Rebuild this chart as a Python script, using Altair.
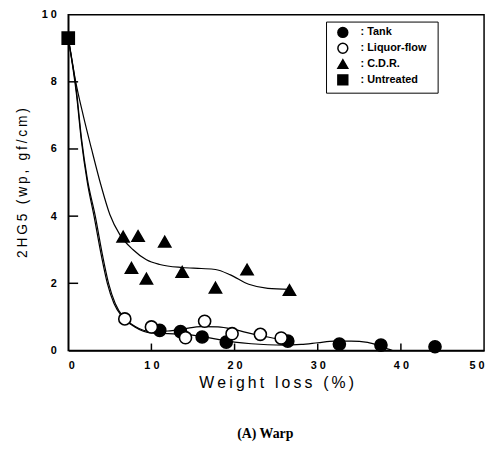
import altair as alt
import pandas as pd

# ---------------- data ----------------
series_names = ["Tank", "Liquor-flow", "C.D.R.", "Untreated"]

tank_x = [11.0, 13.5, 16.1, 19.0, 26.4, 32.6, 37.6, 44.1]
tank_y = [0.60, 0.56, 0.40, 0.25, 0.28, 0.19, 0.16, 0.11]

liquor_x = [6.8, 10.0, 14.1, 16.4, 19.7, 23.1, 25.6]
liquor_y = [0.94, 0.70, 0.38, 0.87, 0.50, 0.48, 0.37]

cdr_x = [6.6, 7.6, 8.4, 9.4, 11.6, 13.7, 17.7, 21.5, 26.6]
cdr_y = [3.39, 2.46, 3.41, 2.14, 3.24, 2.34, 1.87, 2.41, 1.80]

untreated_x = [0.0]
untreated_y = [9.3]

# fitted curves (traced)
tank_curve_x = [0, 1.0, 1.6, 2.3, 3.1, 4.0, 4.7, 5.5, 6.5, 8, 10, 12, 14, 16, 18, 20, 22, 24, 26, 28, 30, 32, 34, 36, 37.5, 38.5, 39]
tank_curve_y = [9.3, 7.6, 6.2, 5.0, 4.0, 2.8, 2.0, 1.4, 1.0, 0.7, 0.52, 0.5, 0.48, 0.42, 0.33, 0.25, 0.2, 0.17, 0.16, 0.18, 0.23, 0.28, 0.28, 0.24, 0.13, 0.04, 0.0]

liquor_curve_x = [0, 1.0, 1.6, 2.3, 3.25, 4.15, 4.85, 5.65, 6.6, 8, 10, 12, 14, 16, 18, 20, 22, 24, 26, 27]
liquor_curve_y = [9.3, 7.7, 6.3, 5.1, 4.0, 2.8, 2.0, 1.4, 1.0, 0.72, 0.56, 0.58, 0.65, 0.71, 0.70, 0.62, 0.50, 0.40, 0.30, 0.25]

cdr_curve_x = [0, 0.9, 1.8, 2.8, 3.9, 5.0, 6.2, 7.8, 9.4, 11, 13.7, 16, 17.7, 19.5, 21.7, 24, 26.6]
cdr_curve_y = [9.3, 8.0, 7.0, 6.0, 4.95, 4.05, 3.45, 3.0, 2.7, 2.56, 2.47, 2.44, 2.41, 2.25, 1.97, 1.85, 1.82]

x_ticks = [0, 10, 20, 30, 40, 50]
y_ticks = [0, 2, 4, 6, 8, 10]

caption = "(A) Warp"
x_title = "Weight loss (%)"
y_title = "2HG5 (wp, gf/cm)"

# ---------------- tables ----------------
pts = []
for name, xs, ys in [("Tank", tank_x, tank_y), ("Liquor-flow", liquor_x, liquor_y),
                     ("C.D.R.", cdr_x, cdr_y), ("Untreated", untreated_x, untreated_y)]:
    for xv, yv in zip(xs, ys):
        pts.append({"x": xv, "y": yv, "series": name})
pts_df = pd.DataFrame(pts)

crv = []
for name, xs, ys in [("Tank", tank_curve_x, tank_curve_y), ("Liquor-flow", liquor_curve_x, liquor_curve_y),
                     ("C.D.R.", cdr_curve_x, cdr_curve_y)]:
    for i, (xv, yv) in enumerate(zip(xs, ys)):
        crv.append({"x": xv, "y": yv, "curve": name, "i": i})
crv_df = pd.DataFrame(crv)

ytick_df = pd.DataFrame({"v": y_ticks[1:-1]})
xtick_df = pd.DataFrame({"v": x_ticks[1:-1]})

TS = "\u2009"


def spaced(s):
    return TS.join(s)


x_scale = alt.Scale(domain=[0, 50], nice=False, zero=False)
y_scale = alt.Scale(domain=[0, 10], nice=False)

label_spacing = "join(split(datum.label, ''), ' ')"
legend_label = "':   ' + datum.label"

x_axis = alt.Axis(values=x_ticks, title=spaced(x_title), labelExpr=label_spacing,
                  labelPadding=9, titlePadding=4, titleFontSize=16, titleFontWeight="normal")
y_axis = alt.Axis(values=y_ticks, title=spaced(y_title), labelExpr=label_spacing,
                  labelPadding=12, titlePadding=12, titleFontSize=14, titleFontWeight="normal")

lines = alt.Chart(crv_df).mark_line(color="black", strokeWidth=1.2, interpolate="monotone").encode(
    x=alt.X("x:Q", scale=x_scale, axis=x_axis),
    y=alt.Y("y:Q", scale=y_scale, axis=y_axis),
    detail="curve:N",
    order="i:Q",
)

ytk = alt.Chart(ytick_df).mark_rule(color="black", strokeWidth=1.5).encode(
    y=alt.Y("v:Q", scale=y_scale), x=alt.value(0), x2=alt.value(10)
)
xtk = alt.Chart(xtick_df).mark_rule(color="black", strokeWidth=1.5).encode(
    x=alt.X("v:Q", scale=x_scale), y=alt.value(340), y2=alt.value(333)
)

leg = alt.Legend(title=None, labelExpr=legend_label, orient="none", legendX=261, legendY=7,
                 strokeColor="black", fillColor="white", padding=5, cornerRadius=0,
                 symbolOffset=6, labelOffset=12, rowPadding=0, symbolSize=100,
                 symbolStrokeColor="black", symbolStrokeWidth=1.5,
                 labelFont="Liberation Sans", labelFontSize=11, labelFontWeight="bold",
                 labelColor="black")

points = alt.Chart(pts_df).mark_point(filled=True, strokeWidth=1.6, opacity=1,
                                      size=150).encode(
    x=alt.X("x:Q", scale=x_scale),
    y=alt.Y("y:Q", scale=y_scale),
    shape=alt.Shape("series:N", scale=alt.Scale(domain=series_names,
                    range=["circle", "circle", "triangle-up", "square"]),
                    legend=leg),
    fill=alt.Fill("series:N", scale=alt.Scale(domain=series_names,
                  range=["black", "white", "black", "black"]),
                  legend=leg),
    stroke=alt.Stroke("series:N", scale=alt.Scale(domain=series_names,
                      range=["black", "black", "black", "black"]),
                      legend=leg),
)

chart = alt.layer(lines, ytk, xtk, points).properties(
    width=421, height=340,
    background="white",
    autosize=alt.AutoSizeParams(type="none"),
    padding={"left": 61, "top": 4, "right": 5, "bottom": 95},
    title=alt.TitleParams(caption, orient="bottom", anchor="middle", font="Liberation Serif",
                          fontSize=14, fontWeight="bold", offset=38, dx=-11, color="black"),
).configure_view(
    stroke="black", strokeWidth=1.5
).configure_axis(
    ticks=False, grid=False, domainColor="black", domainWidth=1.5,
    labelFont="Liberation Sans", labelFontSize=11, labelFontWeight="bold", labelColor="black",
    titleFont="Liberation Sans", titleColor="black",
)

chart.save("out.html", embed_options={"renderer": "svg", "actions": False})
